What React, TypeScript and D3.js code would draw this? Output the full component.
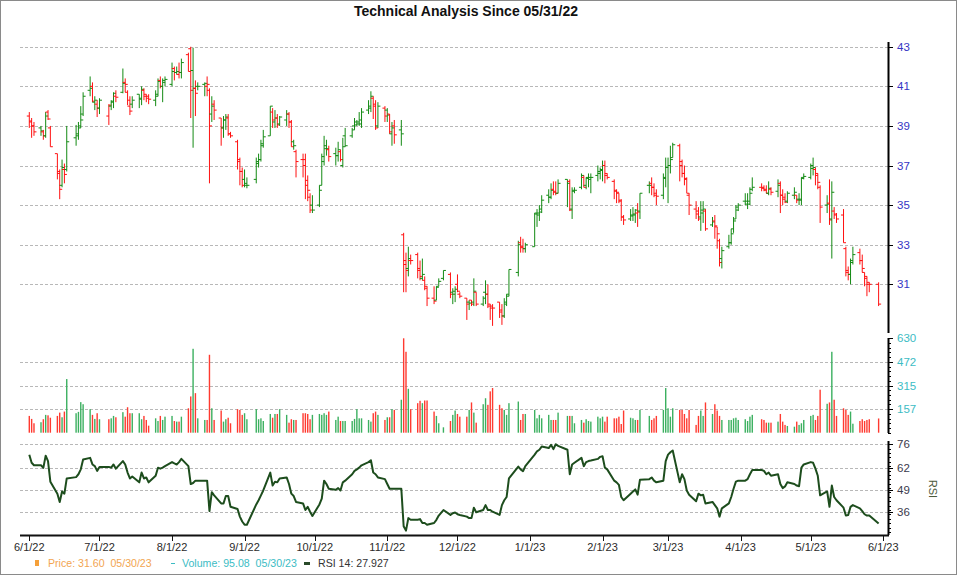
import React, { useEffect, useRef } from 'react'
import * as d3 from 'd3'

// [day, open, high, low, close, volume, rsi]
type Row = [number, number, number, number, number, number, number]

const jun22: Row[] = [
  [1, 39.5, 39.7, 38.9, 39.25, 112, 69.8], [2, 39.2, 39.4, 38.4, 39.0, 92, 65], [3, 39.0, 39.2, 38.5, 38.7, 63, 63.5],
  [6, 38.9, 39.0, 38.5, 38.75, 70, 63.5], [7, 38.7, 38.8, 38.3, 38.5, 90, 62], [8, 38.5, 39.7, 38.4, 39.5, 119, 69.2],
  [9, 39.7, 39.8, 39.3, 39.35, 116, 66], [10, 38.9, 39.0, 37.95, 37.95, 100, 53.8], [13, 37.6, 37.6, 36.3, 36.7, 112, 46.7],
  [14, 36.6, 36.8, 35.3, 35.8, 134, 41.8], [15, 36.0, 37.3, 35.9, 36.9, 103, 48], [16, 36.8, 37.1, 36.1, 36.55, 141, 46.7],
  [17, 36.8, 39.0, 36.7, 38.2, 358, 55.7], [21, 38.4, 39.05, 38.0, 38.6, 130, 56.5], [22, 38.5, 39.2, 38.3, 38.9, 139, 58.2],
  [23, 39.0, 40.0, 38.9, 39.3, 204, 61.1], [24, 39.6, 40.7, 39.5, 40.5, 190, 66.9], [27, 40.8, 41.5, 40.5, 40.9, 157, 67.9],
  [28, 41.0, 41.2, 40.2, 40.25, 119, 64], [29, 40.2, 40.5, 39.8, 40.3, 92, 63], [30, 40.1, 40.3, 39.45, 39.9, 130, 60.2],
]
const jul22: Row[] = [
  [1, 39.9, 40.4, 39.6, 40.3, 90, 62.5], [5, 39.5, 40.1, 39.05, 40.05, 90, 62.5], [6, 40.0, 40.3, 39.8, 40.25, 96, 62.1],
  [7, 40.2, 40.7, 39.9, 40.65, 112, 64], [8, 40.5, 40.8, 40.2, 40.45, 103, 61.5], [11, 40.7, 41.9, 40.65, 41.15, 137, 66],
  [12, 41.2, 41.4, 40.7, 41.1, 107, 64], [13, 40.7, 40.8, 40.05, 40.3, 170, 59.2], [14, 40.0, 40.5, 39.55, 39.75, 130, 55.7],
  [15, 40.1, 40.5, 39.9, 40.3, 130, 56.9], [18, 40.6, 40.6, 39.9, 40.35, 130, 53.4], [19, 40.4, 41.0, 40.05, 40.85, 90, 59.2],
  [20, 40.8, 40.9, 40.3, 40.6, 112, 55.7], [21, 40.5, 40.6, 40.2, 40.4, 85, 56.3], [22, 40.5, 40.6, 40.1, 40.35, 47, 53.4],
  [25, 40.3, 40.8, 40.0, 40.5, 96, 57.3], [26, 40.6, 41.4, 40.5, 41.25, 78, 62.1], [27, 41.3, 41.5, 40.9, 41.0, 112, 61.5],
  [28, 41.0, 41.4, 40.2, 41.2, 85, 62.1], [29, 41.3, 41.5, 41.0, 41.35, 107, 63],
]
const aug22: Row[] = [
  [1, 41.1, 42.2, 41.0, 41.75, 112, 65.4], [2, 41.9, 42.0, 41.3, 41.7, 78, 64.6], [3, 41.7, 42.0, 41.6, 41.75, 74, 64],
  [4, 41.6, 42.2, 41.4, 41.7, 74, 65.4], [5, 41.7, 42.4, 41.4, 42.2, 107, 67.3], [8, 42.6, 42.7, 41.75, 41.75, 163, 63],
  [9, 42.9, 43.0, 39.4, 40.8, 242, 52.4], [10, 41.8, 42.95, 37.9, 40.9, 560, 53], [11, 40.9, 41.3, 39.5, 40.65, 264, 54.4],
  [12, 41.0, 41.2, 40.8, 41.0, 96, 54.4], [15, 41.1, 41.2, 40.5, 41.15, 85, 54.4], [16, 41.0, 41.5, 40.5, 41.1, 85, 54.4],
  [17, 40.8, 40.9, 36.1, 39.0, 520, 36.4], [18, 39.6, 40.5, 39.2, 40.0, 163, 47.6], [19, 40.1, 40.3, 39.3, 39.8, 85, 45.7],
  [22, 39.4, 39.4, 38.0, 38.9, 148, 40.9], [23, 38.9, 39.5, 38.4, 39.3, 74, 40.9], [24, 39.3, 39.6, 38.8, 39.45, 90, 45.3],
  [25, 39.4, 39.6, 38.5, 38.6, 100, 45.3], [26, 38.6, 38.7, 38.4, 38.5, 63, 38.9], [29, 38.2, 38.3, 36.8, 37.3, 157, 37.6],
  [30, 37.2, 37.4, 36.0, 36.7, 152, 33.1], [31, 36.7, 36.9, 35.9, 36.0, 119, 30.2],
]
const sep22: Row[] = [
  [1, 36.3, 36.8, 35.9, 36.0, 130, 28.3], [2, 36.1, 36.4, 35.85, 36.0, 90, 28.3], [6, 36.3, 37.4, 36.1, 37.2, 157, 40.3],
  [7, 37.1, 37.6, 36.9, 37.3, 90, 42.8], [8, 37.3, 38.3, 37.2, 38.0, 96, 45.7], [9, 38.1, 38.8, 37.9, 38.45, 78, 48.6],
  [12, 38.5, 40.0, 38.5, 40.0, 125, 59.2], [13, 39.7, 39.9, 38.9, 39.3, 100, 51.5], [14, 39.2, 39.8, 38.9, 39.4, 125, 53.8],
  [15, 39.4, 39.6, 38.9, 39.05, 125, 53.4], [16, 39.1, 39.5, 39.0, 39.45, 157, 55.7], [19, 39.3, 39.8, 39.0, 39.6, 119, 56.3],
  [20, 39.6, 39.7, 38.9, 39.2, 67, 52.4], [21, 39.2, 39.3, 37.95, 37.95, 90, 46.7], [22, 38.2, 38.3, 37.8, 38.0, 85, 45.3],
  [23, 37.7, 37.8, 36.4, 37.2, 85, 41.8], [26, 37.3, 37.6, 36.4, 37.0, 130, 40.9], [27, 37.3, 37.6, 35.3, 36.25, 130, 37],
  [28, 36.0, 36.5, 35.2, 35.75, 125, 38.9], [29, 35.4, 35.6, 34.6, 34.75, 90, 36], [30, 35.0, 35.5, 34.6, 34.75, 119, 33.5],
]
const oct22: Row[] = [
  [3, 35.0, 36.0, 34.9, 35.75, 125, 40.3], [4, 36.0, 37.6, 36.0, 37.45, 119, 43.8], [5, 37.2, 38.5, 37.0, 37.85, 130, 54.4],
  [6, 38.0, 38.3, 37.5, 37.85, 119, 52.4], [7, 37.8, 38.0, 37.2, 37.45, 141, 49.6], [10, 37.6, 37.9, 37.0, 37.5, 85, 49],
  [11, 37.5, 38.2, 37.2, 37.8, 107, 50], [12, 37.7, 37.8, 37.2, 37.3, 78, 48.6], [13, 37.0, 38.4, 36.9, 37.95, 78, 53.4],
  [14, 38.5, 38.9, 37.95, 38.0, 78, 54.4], [17, 38.5, 38.9, 38.4, 38.8, 78, 58.2], [18, 39.0, 39.4, 38.8, 39.05, 92, 60.2],
  [19, 39.2, 39.3, 39.0, 39.2, 157, 61.1], [20, 39.1, 39.7, 39.0, 39.3, 96, 62.1], [21, 39.1, 39.9, 38.9, 39.7, 96, 63.5],
  [24, 39.8, 40.3, 39.6, 39.9, 85, 65.4], [25, 40.0, 40.75, 39.7, 40.5, 74, 66.5], [26, 40.4, 40.5, 39.35, 40.0, 130, 59.2],
  [27, 40.1, 40.3, 38.8, 38.9, 141, 58.2], [28, 39.0, 40.2, 38.9, 40.0, 119, 56.3], [31, 39.9, 40.0, 39.2, 39.5, 85, 55.3],
]
const nov22: Row[] = [
  [1, 39.8, 39.9, 39.2, 39.55, 103, 52.4], [2, 39.6, 39.6, 38.6, 38.7, 103, 49.6], [3, 38.6, 39.2, 38.0, 38.9, 157, 49.6],
  [4, 39.0, 39.3, 38.1, 38.55, 152, 49.6], [7, 38.8, 39.3, 38.0, 38.6, 220, 49.6], [8, 33.5, 33.6, 30.6, 32.0, 630, 27.4],
  [9, 32.2, 32.6, 30.6, 31.7, 540, 24.8], [10, 31.8, 32.9, 31.4, 32.3, 293, 32.2], [11, 32.2, 32.5, 32.0, 32.2, 157, 31.2],
  [14, 32.5, 32.6, 31.3, 31.7, 197, 31.2], [15, 31.8, 32.2, 31.2, 31.4, 213, 31.6], [16, 31.3, 32.3, 31.2, 31.5, 197, 29.3],
  [17, 31.2, 31.4, 30.7, 30.9, 215, 29.3], [18, 30.8, 30.9, 29.9, 30.3, 215, 28.3], [21, 30.3, 30.9, 30.0, 30.15, 141, 29.3],
  [22, 30.2, 30.9, 30.2, 30.85, 112, 31.2], [23, 30.9, 31.3, 30.9, 31.15, 63, 33.7], [25, 31.3, 31.7, 31.2, 31.7, 36, 37],
  [28, 31.5, 31.6, 30.3, 30.5, 78, 34.1], [29, 30.6, 30.8, 30.0, 30.65, 119, 35.1], [30, 30.5, 30.9, 30.1, 30.75, 148, 35.5],
]
const dec22: Row[] = [
  [1, 31.0, 31.5, 30.6, 30.65, 125, 34.5], [2, 30.5, 30.6, 30.3, 30.4, 107, 34.1], [5, 30.3, 30.3, 29.2, 30.0, 107, 33.1],
  [6, 30.1, 30.2, 29.7, 30.05, 152, 32.2], [7, 30.2, 30.2, 29.9, 30.0, 202, 32.2], [8, 30.1, 31.3, 29.9, 30.65, 134, 38.4],
  [9, 30.6, 30.6, 29.9, 30.0, 67, 35.7], [12, 30.0, 30.4, 29.9, 30.3, 190, 37], [13, 30.6, 31.2, 30.0, 30.5, 230, 39.9],
  [14, 30.5, 31.0, 29.8, 30.0, 186, 37], [15, 29.9, 30.0, 29.2, 29.9, 276, 37], [16, 29.8, 30.0, 28.9, 29.8, 298, 36],
  [19, 30.1, 30.1, 29.3, 29.7, 186, 34.1], [20, 29.6, 30.0, 28.95, 29.4, 163, 39.9], [21, 29.4, 30.3, 29.3, 30.0, 152, 42.8],
  [22, 30.1, 30.5, 29.9, 30.4, 119, 44.7], [23, 30.5, 31.75, 30.4, 31.75, 197, 55.7], [27, 31.6, 33.2, 31.4, 33.0, 208, 62.7],
  [28, 33.1, 33.4, 32.6, 32.85, 85, 61.1], [29, 32.9, 33.3, 32.6, 32.8, 125, 60], [30, 32.8, 33.1, 32.6, 33.0, 125, 63],
]
const jan23: Row[] = [
  [3, 32.9, 34.6, 32.9, 34.55, 152, 69.8], [4, 34.6, 34.8, 33.9, 34.6, 96, 71.8], [5, 34.5, 35.0, 34.2, 34.65, 119, 72.7],
  [6, 34.8, 35.5, 34.6, 35.25, 96, 74.6], [9, 35.5, 35.8, 35.1, 35.4, 119, 73.7], [10, 35.4, 36.1, 35.3, 35.75, 85, 75.6],
  [11, 35.8, 36.2, 35.5, 35.65, 85, 73.1], [12, 35.7, 36.2, 35.5, 35.6, 85, 76], [13, 35.6, 36.3, 35.6, 36.1, 134, 75],
  [17, 36.3, 36.3, 34.9, 36.1, 112, 72.7], [18, 36.2, 36.3, 34.7, 34.75, 112, 58.2], [19, 34.8, 35.9, 34.3, 35.75, 112, 64],
  [20, 35.7, 35.9, 35.6, 35.75, 63, 65], [23, 35.9, 36.6, 35.8, 36.5, 85, 67.9], [24, 36.4, 36.5, 35.9, 35.9, 67, 63],
  [25, 36.0, 36.4, 35.8, 36.35, 90, 65.4], [26, 36.4, 36.6, 35.9, 36.4, 78, 66], [27, 36.3, 36.6, 35.6, 36.4, 74, 66.3],
  [30, 36.5, 37.0, 36.2, 36.7, 107, 67.3], [31, 36.6, 36.9, 36.3, 36.75, 96, 68.5],
]
const feb23: Row[] = [
  [1, 36.8, 37.25, 36.2, 37.0, 107, 68.9], [2, 37.0, 37.25, 36.1, 36.6, 74, 62.1], [3, 36.5, 36.6, 36.3, 36.4, 107, 61.1],
  [6, 36.2, 36.3, 35.3, 35.75, 96, 54.4], [7, 35.7, 35.8, 35.1, 35.65, 96, 53.4], [8, 35.6, 35.6, 35.1, 35.25, 107, 51.9],
  [9, 35.2, 35.3, 34.2, 34.4, 58, 44.7], [10, 34.4, 34.5, 34.0, 34.25, 148, 42.8], [13, 34.3, 34.8, 34.2, 34.45, 100, 46.7],
  [14, 34.5, 34.9, 34.2, 34.55, 96, 48], [15, 34.5, 34.8, 34.1, 34.75, 85, 49.2], [16, 34.6, 35.1, 33.9, 34.65, 85, 46.1],
  [17, 34.7, 35.6, 34.3, 35.6, 152, 55], [21, 36.0, 36.2, 35.6, 36.0, 112, 55.3], [22, 36.1, 36.4, 35.5, 35.9, 85, 56.3],
  [23, 35.9, 36.1, 35.4, 35.5, 96, 54.4], [24, 35.6, 35.8, 35.0, 35.45, 112, 53.4], [27, 35.5, 36.6, 35.3, 36.35, 152, 54.4],
  [28, 36.4, 37.4, 35.9, 36.9, 298, 66],
]
const mar23: Row[] = [
  [1, 36.9, 37.4, 35.1, 37.0, 163, 69.8], [2, 37.0, 38.0, 36.6, 37.3, 107, 71.2], [3, 37.4, 38.15, 37.4, 38.05, 163, 72.3],
  [6, 38.0, 38.1, 36.2, 37.0, 152, 53.4], [7, 37.2, 37.3, 36.4, 36.6, 152, 58.2], [8, 36.6, 37.0, 36.0, 36.35, 125, 55.3],
  [9, 36.3, 36.4, 35.6, 35.6, 96, 48.6], [10, 35.5, 35.6, 34.5, 35.0, 152, 46.1], [13, 34.8, 35.2, 34.3, 34.55, 52, 42.2],
  [14, 34.7, 34.9, 34.2, 34.3, 112, 46.7], [15, 34.4, 35.2, 33.7, 34.75, 148, 45.7], [16, 34.6, 35.2, 34.1, 34.8, 112, 46.1],
  [17, 34.7, 34.8, 33.7, 33.8, 202, 40.9], [20, 34.0, 34.4, 33.9, 34.15, 125, 41.8], [21, 34.2, 34.5, 33.3, 33.95, 190, 39.9],
  [22, 33.9, 33.9, 32.8, 33.55, 148, 38], [23, 33.2, 33.3, 31.9, 32.1, 112, 33.1], [24, 32.3, 32.9, 31.8, 32.7, 85, 38],
  [27, 32.9, 33.5, 32.8, 33.1, 85, 40.9], [28, 33.1, 33.8, 33.0, 33.55, 85, 44.7], [29, 33.8, 34.4, 33.6, 34.2, 96, 49.6],
  [30, 34.3, 35.0, 34.3, 34.75, 100, 53.8], [31, 34.9, 35.1, 34.7, 35.0, 85, 54.4],
]
const apr23: Row[] = [
  [3, 35.2, 35.6, 35.0, 35.05, 90, 54.4], [4, 35.2, 35.6, 34.8, 35.05, 78, 55.3], [5, 35.2, 35.9, 35.0, 35.6, 107, 58.2],
  [6, 35.8, 36.4, 35.7, 35.9, 119, 60.7], [10, 35.9, 36.1, 35.7, 35.85, 90, 60.7], [11, 35.9, 36.0, 35.7, 35.75, 85, 60.2],
  [12, 35.8, 36.0, 35.6, 35.6, 67, 58.2], [13, 35.6, 36.2, 35.5, 35.85, 67, 59.2], [14, 35.8, 35.9, 35.5, 35.65, 67, 57.3],
  [17, 35.7, 36.3, 35.4, 36.0, 74, 58.2], [18, 36.1, 36.2, 34.6, 35.5, 125, 52.4], [19, 35.5, 35.8, 35.0, 35.4, 74, 50],
  [20, 35.3, 35.6, 35.1, 35.15, 52, 51], [21, 35.2, 35.7, 35.1, 35.6, 45, 53.4], [24, 35.5, 35.9, 35.3, 35.65, 40, 52.4],
  [25, 35.5, 35.5, 35.1, 35.25, 74, 51.5], [26, 35.3, 35.6, 35.0, 35.25, 52, 51.1], [27, 35.3, 36.4, 35.0, 36.35, 63, 62.1],
  [28, 36.4, 36.6, 36.3, 36.45, 85, 64],
]
const may23: Row[] = [
  [1, 36.4, 37.1, 36.3, 36.85, 112, 65.4], [2, 37.0, 37.4, 36.5, 36.9, 119, 65], [3, 36.8, 36.9, 36.0, 36.6, 85, 61.5],
  [4, 36.5, 36.6, 35.8, 36.15, 112, 57.3], [5, 35.9, 36.0, 34.1, 34.9, 287, 45.7], [8, 35.0, 35.5, 34.6, 35.05, 193, 48],
  [9, 35.1, 36.3, 34.0, 34.25, 202, 38.9], [10, 34.3, 36.2, 32.3, 35.65, 540, 51.5], [11, 34.7, 34.9, 34.3, 34.55, 220, 44.7],
  [12, 34.5, 34.6, 34.1, 34.3, 112, 42.8], [15, 34.5, 34.8, 33.1, 33.1, 163, 38.4], [16, 32.8, 32.9, 31.4, 31.6, 152, 33.7],
  [17, 31.7, 31.9, 31.2, 31.5, 119, 34.1], [18, 31.5, 32.3, 31.0, 32.1, 141, 38.9], [19, 32.2, 32.9, 32.0, 32.5, 60, 39.9],
  [22, 32.6, 32.8, 32.0, 32.2, 78, 38], [23, 32.2, 32.5, 31.6, 31.8, 90, 36.4], [24, 31.6, 31.6, 30.9, 31.4, 78, 34.5],
  [25, 31.3, 31.4, 30.4, 31.1, 85, 33.7], [26, 31.0, 31.1, 30.6, 31.0, 90, 33.7], [30, 31.0, 31.1, 29.9, 30.0, 95, 29],
]

const months: [number, number, Row[]][] = [
  [2022, 5, jun22], [2022, 6, jul22], [2022, 7, aug22], [2022, 8, sep22], [2022, 9, oct22], [2022, 10, nov22],
  [2022, 11, dec22], [2023, 0, jan23], [2023, 1, feb23], [2023, 2, mar23], [2023, 3, apr23], [2023, 4, may23],
]

const priceTicks = [31, 33, 35, 37, 39, 41, 43]
const volumeTicks = [157.5, 315, 472.5, 630]
const rsiTicks = [36, 49, 62, 76]

const RED = '#ff1010'
const GREEN = '#138a13'

interface Bar {
  date: Date
  o: number
  h: number
  l: number
  c: number
  v: number
  rsi: number
  up: boolean
}

export default function App() {
  const ref = useRef<SVGSVGElement | null>(null)

  useEffect(() => {
    if (!ref.current) return
    const width = 960
    const height = 576
    const left = 20
    const right = 888

    const bars: Bar[] = []
    months.forEach(([yy, mm, rows]) => {
      rows.forEach(([d, o, h, l, c, v, r]) => {
        const prev = bars.length ? bars[bars.length - 1].c : o
        bars.push({ date: new Date(yy, mm, d), o, h, l, c, v, rsi: r, up: c >= prev })
      })
    })

    const x = d3
      .scaleTime()
      .domain([new Date(2022, 5, 1), new Date(2023, 5, 1)])
      .range([29.3, 883.3])
    const yPrice = d3.scaleLinear().domain([28.54, 43.24]).range([333, 42])
    const yVol = d3.scaleLinear().domain([0, 630]).range([432.7, 338.3])
    const yRsi = d3.scaleLinear().domain([22.2, 77.9]).range([535, 441])

    const svg = d3
      .select(ref.current)
      .attr('width', width)
      .attr('height', height)
      .attr('viewBox', [0, 0, width, height])
      .style('font-family', '"Liberation Sans", Arial, sans-serif')

    // frame
    svg
      .append('rect')
      .attr('x', 0.5)
      .attr('y', 0.5)
      .attr('width', 956)
      .attr('height', 574)
      .attr('fill', '#fff')
      .attr('stroke', '#8a8a8a')

    svg
      .append('text')
      .attr('x', 466)
      .attr('y', 16)
      .attr('text-anchor', 'middle')
      .attr('font-size', 14)
      .attr('font-weight', 'bold')
      .attr('fill', '#111')
      .text('Technical Analysis Since 05/31/22')

    // gridlines
    const grid = (ys: number[]) =>
      svg
        .append('g')
        .selectAll('line')
        .data(ys)
        .join('line')
        .attr('x1', left)
        .attr('x2', right)
        .attr('y1', (d) => Math.round(d) + 0.5)
        .attr('y2', (d) => Math.round(d) + 0.5)
        .attr('stroke', '#b8b8b8')
        .attr('stroke-dasharray', '3,2')
    grid(priceTicks.map((t) => yPrice(t)))
    grid(volumeTicks.slice(0, 3).map((t) => yVol(t)))
    grid(rsiTicks.map((t) => yRsi(t)))

    // price OHLC bars
    const pg = svg.append('g').attr('stroke-width', 1)
    const pb = pg
      .selectAll('g')
      .data(bars)
      .join('g')
      .attr('stroke', (d) => (d.up ? GREEN : RED))
    pb.append('line')
      .attr('x1', (d) => x(d.date))
      .attr('x2', (d) => x(d.date))
      .attr('y1', (d) => yPrice(d.h))
      .attr('y2', (d) => yPrice(d.l))
    pb.append('line')
      .attr('x1', (d) => x(d.date) - 2.5)
      .attr('x2', (d) => x(d.date))
      .attr('y1', (d) => yPrice(d.o))
      .attr('y2', (d) => yPrice(d.o))
    pb.append('line')
      .attr('x1', (d) => x(d.date))
      .attr('x2', (d) => x(d.date) + 2.5)
      .attr('y1', (d) => yPrice(d.c))
      .attr('y2', (d) => yPrice(d.c))

    // volume
    svg
      .append('g')
      .selectAll('rect')
      .data(bars)
      .join('rect')
      .attr('x', (d) => x(d.date) - 0.7)
      .attr('width', 1.4)
      .attr('y', (d) => yVol(Math.min(d.v, 630)))
      .attr('height', (d) => yVol(0) - yVol(Math.min(d.v, 630)))
      .attr('fill', (d) => (d.up ? '#3cb060' : '#ff3a30'))

    // RSI line
    const line = d3
      .line<Bar>()
      .x((d) => x(d.date))
      .y((d) => yRsi(d.rsi))
    svg
      .append('path')
      .datum(bars)
      .attr('d', line)
      .attr('fill', 'none')
      .attr('stroke', '#1d4d1d')
      .attr('stroke-width', 2)
      .attr('stroke-linejoin', 'round')

    // right axes
    const axisLine = (y0: number, y1: number) =>
      svg
        .append('line')
        .attr('x1', right + 0.5)
        .attr('x2', right + 0.5)
        .attr('y1', y0)
        .attr('y2', y1)
        .attr('stroke', '#000')
        .attr('stroke-width', 2)
    axisLine(42, 333)
    axisLine(338, 433)
    axisLine(441, 535)

    const ticks = (ys: number[], len: number) =>
      svg
        .append('g')
        .selectAll('line')
        .data(ys)
        .join('line')
        .attr('x1', right)
        .attr('x2', right + len)
        .attr('y1', (d) => Math.round(d) + 0.5)
        .attr('y2', (d) => Math.round(d) + 0.5)
        .attr('stroke', '#000')
    ticks(priceTicks.map((t) => yPrice(t)), 5)
    ticks(volumeTicks.map((t) => yVol(t)), 5)
    ticks(rsiTicks.map((t) => yRsi(t)), 5)
    ticks(d3.range(0, 630, 31.5).map((t) => yVol(t)), 3)
    ticks(d3.range(24, 78, 2.6).map((t) => yRsi(t)), 3)

    const labels = (vals: number[], sc: (v: number) => number, color: string) =>
      svg
        .append('g')
        .selectAll('text')
        .data(vals)
        .join('text')
        .attr('x', 897)
        .attr('y', (d) => sc(d) + 4)
        .attr('font-size', 11.5)
        .attr('fill', color)
        .text((d) => String(Math.floor(d)))
    labels(priceTicks, yPrice, '#3434c4')
    labels(volumeTicks, yVol, '#3cbcc4')
    labels(rsiTicks, yRsi, '#3a3a4c')

    svg
      .append('text')
      .attr('transform', 'translate(929,489) rotate(90)')
      .attr('text-anchor', 'middle')
      .attr('font-size', 11)
      .attr('fill', '#4b5a3a')
      .text('RSI')

    // x axis
    svg
      .append('line')
      .attr('x1', left)
      .attr('x2', right + 1)
      .attr('y1', 535.5)
      .attr('y2', 535.5)
      .attr('stroke', '#111')
      .attr('stroke-width', 2)
    const monthTicks = d3.timeMonth.range(new Date(2022, 5, 1), new Date(2023, 5, 2))
    const xt = svg.append('g').selectAll('g').data(monthTicks).join('g')
    xt.append('line')
      .attr('x1', (d) => Math.round(x(d)) + 0.5)
      .attr('x2', (d) => Math.round(x(d)) + 0.5)
      .attr('y1', 535)
      .attr('y2', 541)
      .attr('stroke', '#111')
    xt.append('text')
      .attr('x', (d) => x(d))
      .attr('y', 551)
      .attr('text-anchor', 'middle')
      .attr('font-size', 11)
      .attr('fill', '#2a2a2a')
      .text((d) => `${d.getMonth() + 1}/${d.getDate()}/${String(d.getFullYear()).slice(2)}`)

    // legend
    const gap = '\u00a0\u00a0'
    const lg = svg.append('g').attr('font-size', 10.6)
    lg.append('rect').attr('x', 35).attr('y', 560).attr('width', 4).attr('height', 6).attr('fill', '#f5a03a')
    lg.append('text').attr('x', 48).attr('y', 567).attr('fill', '#f2a551').text(`Price: 31.60${gap}05/30/23`)
    lg.append('line').attr('x1', 171).attr('x2', 175).attr('y1', 563.5).attr('y2', 563.5).attr('stroke', '#3cbcc4')
    lg.append('text').attr('x', 182).attr('y', 567).attr('fill', '#3cbcc4').text(`Volume: 95.08${gap}05/30/23`)
    lg.append('rect').attr('x', 304).attr('y', 562).attr('width', 6).attr('height', 3).attr('fill', '#2a4a2a')
    lg.append('text').attr('x', 318).attr('y', 567).attr('fill', '#333').text('RSI 14: 27.927')

    return () => {
      svg.selectAll('*').remove()
    }
  }, [])

  return <svg ref={ref} style={{ position: 'absolute', left: 0, top: 0 }} />
}
